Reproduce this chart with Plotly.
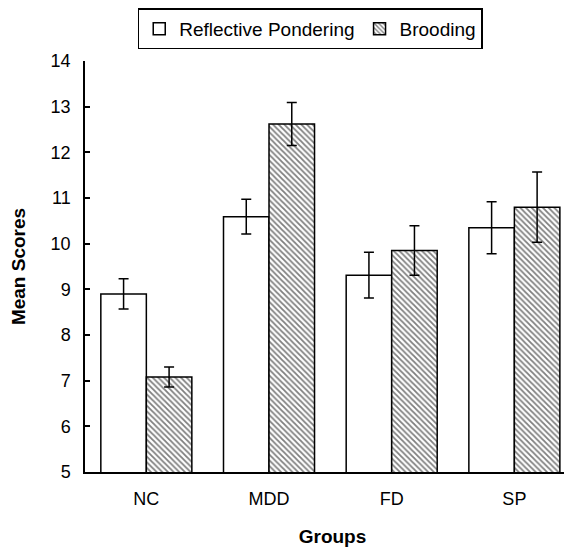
import plotly.graph_objects as go

groups = ["NC", "MDD", "FD", "SP"]
reflective = [8.90, 10.59, 9.31, 10.35]
reflective_err = [0.33, 0.38, 0.50, 0.57]
brooding = [7.08, 12.62, 9.85, 10.80]
brooding_err = [0.22, 0.47, 0.54, 0.77]
y_ticks = [5, 6, 7, 8, 9, 10, 11, 12, 13, 14]

FONT = "Liberation Sans, Arial, sans-serif"

fig = go.Figure()
fig.add_trace(go.Bar(
    name="Reflective Pondering", x=groups, y=reflective,
    marker=dict(color="white", line=dict(color="black", width=1.5)),
    error_y=dict(type="data", array=reflective_err, color="black", thickness=1.5, width=5),
))
fig.add_trace(go.Bar(
    name="Brooding", x=groups, y=brooding,
    marker=dict(color="white", line=dict(color="black", width=1.5),
                pattern=dict(shape="\\", fgcolor="black", bgcolor="white", size=4, solidity=0.45)),
    error_y=dict(type="data", array=brooding_err, color="black", thickness=1.5, width=5),
))

fig.update_layout(
    width=572, height=549,
    barmode="group", bargap=0.258, bargroupgap=0,
    plot_bgcolor="white", paper_bgcolor="white",
    margin=dict(l=77, r=0, t=53, b=85, autoexpand=False),
    font=dict(family=FONT, size=18, color="black"),
    showlegend=True,
    legend=dict(orientation="h", x=0.455, xanchor="center", y=1.128, yanchor="top",
                bordercolor="black", borderwidth=1.5, bgcolor="white",
                font=dict(size=19), itemwidth=30, traceorder="normal"),
    xaxis=dict(range=[-0.5, 3.535], showline=True, linecolor="black", linewidth=1.5,
               ticks="", showgrid=False, zeroline=False, ticklabelstandoff=10, automargin=False,
               tickfont=dict(size=18),
               title=dict(text="<b>Groups</b>", font=dict(size=19), standoff=21)),
    yaxis=dict(range=[5, 14], tickvals=y_ticks, showline=True, linecolor="black", linewidth=1.5,
               ticks="inside", ticklen=5, tickwidth=1.5, tickcolor="black", automargin=False,
               showgrid=False, zeroline=False, ticklabelstandoff=9, tickfont=dict(size=18),
               title=dict(text="<b>Mean Scores</b>", font=dict(size=19), standoff=24)),
)

fig.write_html("out.html")
